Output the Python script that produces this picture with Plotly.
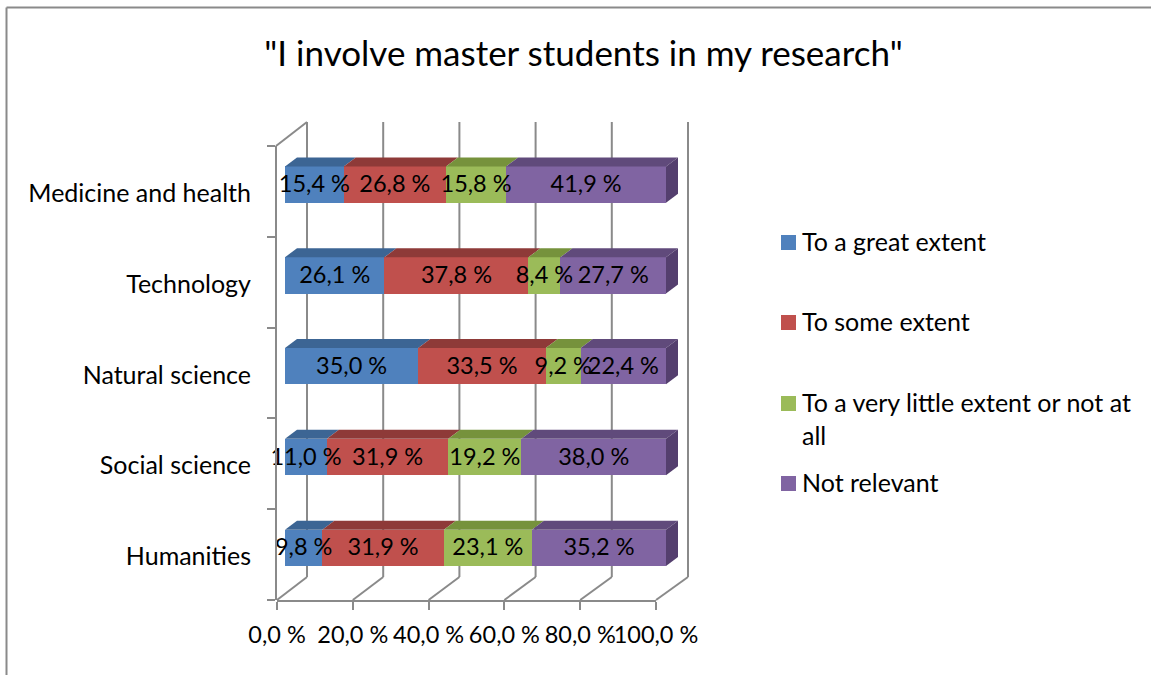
import plotly.graph_objects as go

W, H = 1151, 675

title = '"I involve master students in my research"'
categories = ['Humanities', 'Social science', 'Natural science', 'Technology', 'Medicine and health']
series_names = ['To a great extent', 'To some extent', 'To a very little extent or not at<br>all', 'Not relevant']
great = [9.8, 11.0, 35.0, 26.1, 15.4]
some = [31.9, 31.9, 33.5, 37.8, 26.8]
little = [23.1, 19.2, 9.2, 8.4, 15.8]
not_relevant = [35.2, 38.0, 22.4, 27.7, 41.9]
x_ticks = [0, 20, 40, 60, 80, 100]
x_labels = ['0,0 %', '20,0 %', '40,0 %', '60,0 %', '80,0 %', '100,0 %']

values = [great, some, little, not_relevant]
front = ['#4f81bd', '#c0504d', '#9bbb59', '#8064a2']
top_face = ['#3c6594', '#8e3a38', '#76923c', '#604a7b']
side_face = '#543f6e'
grey = '#8a8a8a'
font = 'Lato'


def px(x):
    return x / W


def py(y):
    return 1 - y / H


# bars live on their own x axis, 100 % = 381 px starting at x=285
X_SCALE = 3.81
DX = 12 / X_SCALE
DY = 9 / 90.8
BAR_H = 0.40
SHIFT = 0.075

fig = go.Figure()

# normalised stack positions
starts, ends = [], []
for i in range(len(categories)):
    total = sum(v[i] for v in values)
    run = 0
    s, e = [], []
    for v in values:
        s.append(run)
        run += v[i] / total * 100
        e.append(run)
    starts.append(s)
    ends.append(e)

for k, v in enumerate(values):
    fig.add_trace(go.Bar(y=list(range(len(categories))), x=v, orientation='h', width=BAR_H,
                         offset=SHIFT - BAR_H / 2, marker=dict(color=front[k], line=dict(width=0)),
                         name=series_names[k].replace('<br>', ' '), showlegend=False))

# top and side faces
for i in range(len(categories)):
    yt = i + SHIFT + BAR_H / 2
    for k in range(len(values)):
        a, b = starts[i][k], ends[i][k]
        fig.add_trace(go.Scatter(x=[a, b, b + DX, a + DX, a], y=[yt, yt, yt + DY, yt + DY, yt],
                                 mode='lines', fill='toself', fillcolor=top_face[k], line=dict(width=0),
                                 showlegend=False, hoverinfo='skip'))
    yb = i + SHIFT - BAR_H / 2
    fig.add_trace(go.Scatter(x=[100, 100 + DX, 100 + DX, 100, 100], y=[yb, yb + DY, yt + DY, yt, yb],
                             mode='lines', fill='toself', fillcolor=side_face, line=dict(width=0),
                             showlegend=False, hoverinfo='skip'))

# data labels on top of everything
for k, v in enumerate(values):
    fig.add_trace(go.Scatter(x=[(starts[i][k] + ends[i][k]) / 2 for i in range(len(categories))],
                             y=[i + SHIFT - 0.02 for i in range(len(categories))],
                             text=[f'{val:.1f} %'.replace('.', ',') for val in v],
                             mode='text', textposition='middle center', cliponaxis=False,
                             textfont=dict(family=font, size=23.5, color='black'),
                             showlegend=False, hoverinfo='skip'))

# keeps the tick axis alive
fig.add_trace(go.Scatter(x=x_ticks, y=[-0.5] * len(x_ticks), xaxis='x2', mode='markers',
                         marker=dict(opacity=0), showlegend=False, hoverinfo='skip'))

# walls and floor
shapes = []


def line(x0, y0, x1, y1):
    shapes.append(dict(type='line', xref='paper', yref='paper', x0=px(x0), y0=py(y0), x1=px(x1), y1=py(y1),
                       layer='below', line=dict(color=grey, width=2)))


for t in x_ticks:
    fx = 277 + t * 3.79
    bx = 307 + t * 3.81
    line(bx, 122, bx, 577)
    line(fx, 600, bx, 577)
line(276, 146, 307, 122)

# chart frame
line(6.5, 675, 6.5, 7.5)
line(6.5, 7.5, 1151, 7.5)

# legend
annotations = []
legend_y = [235, 315, 396, 476]
for k, name in enumerate(series_names):
    shapes.append(dict(type='rect', xref='paper', yref='paper', x0=px(781), x1=px(796),
                       y0=py(legend_y[k]), y1=py(legend_y[k] + 15), fillcolor=front[k], line=dict(width=0)))
    annotations.append(dict(xref='paper', yref='paper', x=px(800), y=py(legend_y[k] - 11), text=name,
                            xanchor='left', yanchor='top', align='left', showarrow=False,
                            font=dict(family=font, size=25, color='black')))

fig.update_layout(
    width=W, height=H, margin=dict(l=0, r=0, t=0, b=0, autoexpand=False), autosize=False,
    plot_bgcolor='rgba(0,0,0,0)', paper_bgcolor='white',
    barmode='stack', barnorm='percent',
    title=dict(text=title, x=583.5 / W, xanchor='center', y=py(54), yanchor='middle',
               font=dict(family=font, size=35, color='black')),
    xaxis=dict(domain=[px(285), px(700)], range=[0, 415 / X_SCALE], visible=False, anchor='y', fixedrange=True),
    xaxis2=dict(domain=[px(277), px(656)], range=[0, 100], anchor='y', side='bottom',
                tickmode='array', tickvals=x_ticks, ticktext=x_labels, ticks='outside', ticklen=8,
                tickwidth=2, tickcolor=grey, showline=True, linecolor=grey, linewidth=2, showgrid=False,
                zeroline=False, ticklabelstandoff=5, tickangle=0,
                tickfont=dict(family=font, size=23.5, color='black')),
    yaxis=dict(domain=[py(600), py(146)], range=[-0.5, 4.5], anchor='free', position=px(276),
               tickmode='array', tickvals=[i - 0.02 for i in range(len(categories))], ticktext=categories, ticks='',
               showline=True, linecolor=grey, linewidth=2, showgrid=False, zeroline=False,
               ticklabelstandoff=19,
               minor=dict(tickmode='array', tickvals=[-0.5, 0.5, 1.5, 2.5, 3.5, 4.5], ticks='outside',
                          ticklen=8, tickwidth=2, tickcolor=grey, showgrid=False),
               tickfont=dict(family=font, size=25, color='black')),
    shapes=shapes, annotations=annotations,
)

fig.write_html("out.html", config=dict(displayModeBar=False),
               post_script="document.body.style.margin='0';")
